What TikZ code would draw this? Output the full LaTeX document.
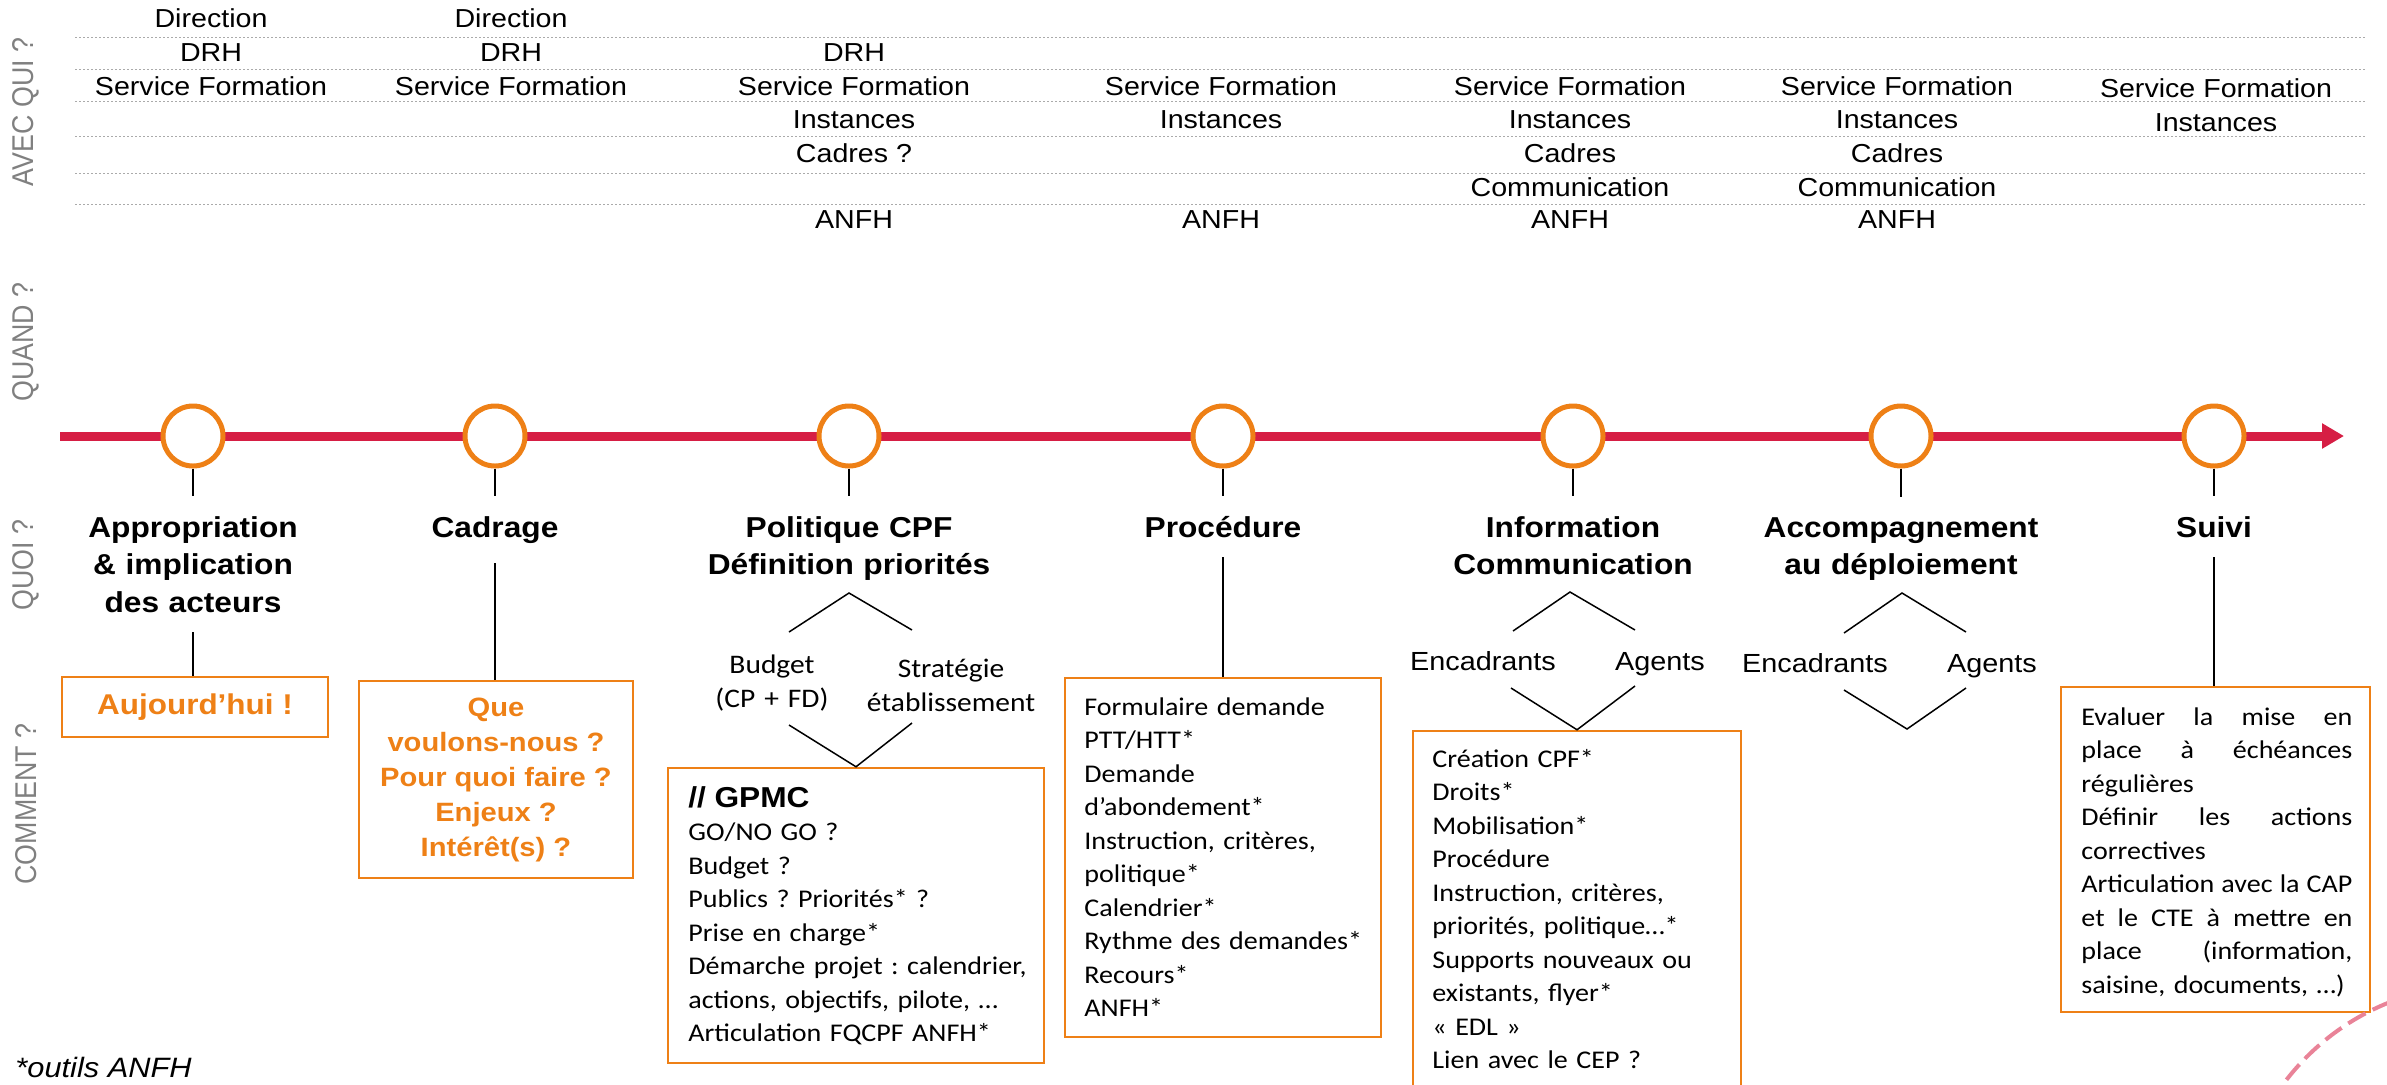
\documentclass[tikz,border=0pt]{standalone}
\usepackage{fontspec}
\setmainfont{Liberation Sans}[FakeStretch=1.1]
\newfontfamily\calibri{Carlito}[FakeStretch=1.1]
\newfontfamily\sidefont{Liberation Sans}
\usetikzlibrary{arrows.meta}

\definecolor{anfhorange}{RGB}{238,128,22}
\definecolor{anfhred}{RGB}{214,30,68}
\definecolor{sidegray}{RGB}{128,128,128}
\definecolor{linegray}{RGB}{170,170,170}

% one justified line of the last box
\newcommand{\jline}[1]{\makebox[135.5pt][s]{\spaceskip=0.2em plus 1fil\relax #1}}

\begin{document}
\frenchspacing
\begin{tikzpicture}[x=0.5pt, y=-0.5pt,
    qui/.style={anchor=base, inner sep=0pt, font=\fontsize{13}{15}\selectfont},
    rowsep/.style={linegray, line width=0.5pt, dash pattern=on 1pt off 1pt},
    side/.style={rotate=90, sidegray, inner sep=0pt, font=\sidefont\fontsize{13.4}{16}\selectfont},
    timeline/.style={anfhred, line width=4.5pt, -{Triangle[length=11pt,width=12pt]}},
    stage/.style={circle, draw=anfhorange, line width=2.5pt, fill=white, minimum size=30pt, inner sep=0pt},
    stagetitle/.style={anchor=base, text width=160pt, align=center, inner sep=0pt, outer sep=10pt,
      font=\bfseries\fontsize{14.4}{18.75}\selectfont},
    obox/.style={draw=anfhorange, line width=1.25pt, inner sep=0pt},
    otext/.style={text=anfhorange, align=center, font=\bfseries\fontsize{13.25}{17.5}\selectfont},
    sub/.style={anchor=base, text width=100pt, align=center, inner sep=0pt, font=\calibri\fontsize{13.4}{17}\selectfont},
    who/.style={anchor=base, inner sep=0pt, font=\fontsize{13.1}{15}\selectfont},
    items/.style={anchor=base west, text width=180pt, align=left, inner sep=0pt,
      font=\calibri\fontsize{12.75}{16.75}\selectfont},
    tick/.style={line width=0.75pt},
  ]
  \useasboundingbox (0,0) rectangle (2387,1084);
  \clip (0,0) rectangle (2387,1084);

  % row labels
  \node[side] (avec) at (26,112) {\scalebox{1}[1.12]{AVEC QUI ?}};
  \node[side] (quand) at (26,342) {\scalebox{1}[1.12]{QUAND ?}};
  \node[side] (quoi) at (26,565) {\scalebox{1}[1.12]{QUOI ?}};
  \node[side] (comment) at (26,804) {\scalebox{1}[1.12]{COMMENT ?}};

  % avec qui ?
  \foreach \y in {37,69,101,136,173,204}
    \draw[rowsep] (75,\y) -- (2365,\y);
  \foreach \x/\y/\txt in {211/27/Direction, 211/61/DRH, 211/95/Service Formation,
      511/27/Direction, 511/61/DRH, 511/95/Service Formation,
      854/61/DRH, 854/95/Service Formation, 854/128/Instances, 854/162/Cadres ?, 854/228/ANFH,
      1221/95/Service Formation, 1221/128/Instances, 1221/228/ANFH,
      1570/95/Service Formation, 1570/128/Instances, 1570/162/Cadres, 1570/196/Communication, 1570/228/ANFH,
      1897/95/Service Formation, 1897/128/Instances, 1897/162/Cadres, 1897/196/Communication, 1897/228/ANFH,
      2216/97/Service Formation, 2216/131/Instances}
    \node[qui] (qui-\x-\y) at (\x,\y) {\txt};

  % quand ?
  \draw[timeline] (60,436) -- (2344,436);
  \foreach \n/\x in {1/193, 2/495, 3/849, 4/1223, 5/1573, 6/1901, 7/2214}
    \node[stage] (c\n) at (\x,436) {};

  % quoi ?
  \node[stagetitle] (t1) at (193,537) {Appropriation\\\& implication\\des acteurs};
  \node[stagetitle] (t2) at (495,537) {Cadrage};
  \node[stagetitle] (t3) at (849,537) {Politique CPF\\Définition priorités};
  \node[stagetitle] (t4) at (1223,537) {Procédure};
  \node[stagetitle] (t5) at (1573,537) {Information\\Communication};
  \node[stagetitle] (t6) at (1901,537) {Accompagnement\\au déploiement};
  \node[stagetitle] (t7) at (2214,537) {Suivi};
  \foreach \n in {1,...,7}
    \draw[tick] (c\n) -- (t\n);

  % comment ?
  \node[obox, otext, minimum width=133pt, minimum height=30pt,
    font=\bfseries\fontsize{14.3}{17.5}\selectfont] (b1) at (195,707) {Aujourd’hui !};
  \draw[tick] (t1.south) -- (t1.south |- b1.north);

  \node[obox, otext, minimum width=137pt, minimum height=98.5pt] (b2) at (496,779.5)
    {Que\\voulons-nous ?\\Pour quoi faire ?\\Enjeux ?\\Intérêt(s) ?};
  \draw[tick] (t2.south) -- (t2.south |- b2.north);

  \node[sub] (bud) at (772,673) {Budget\\(CP + FD)};
  \node[sub] (strat) at (951,677) {Stratégie\\établissement};
  \node[obox, minimum width=188pt, minimum height=147.5pt] (b3) at (856,915.5) {};
  \coordinate (p3l) at (789,632);
  \coordinate (p3) at (849,593);
  \coordinate (p3r) at (912,630);
  \coordinate (q3l) at (789,725);
  \coordinate (q3r) at (912,723);
  \draw[tick] (p3l) -- (p3) -- (p3r);
  \draw[tick] (q3l) -- (b3.north) -- (q3r);
  \node[items] (l3) at (688,807) {{\rmfamily\bfseries\fontsize{14.4}{16.75}\selectfont // GPMC}\\
    GO/NO GO ?\\Budget ?\\Publics ? Priorités* ?\\Prise en charge*\\
    Démarche projet : calendrier,\\actions, objectifs, pilote, …\\Articulation FQCPF ANFH*};

  \node[obox, minimum width=158pt, minimum height=179.5pt] (b4) at (1223,857.5) {};
  \draw[tick] (t4.south) -- (b4.north);
  \node[items] (l4) at (1084,715) {Formulaire demande\\PTT/HTT*\\Demande\\d’abondement*\\
    Instruction, critères,\\politique*\\Calendrier*\\Rythme des demandes*\\Recours*\\ANFH*};

  \node[who] (enc5) at (1483,670) {Encadrants};
  \node[who] (ag5) at (1660,670) {Agents};
  \node[obox, minimum width=164pt, minimum height=189.5pt] (b5) at (1577,920.5) {};
  \coordinate (p5l) at (1513,631);
  \coordinate (p5) at (1570,592);
  \coordinate (p5r) at (1635,630);
  \coordinate (q5l) at (1511,688);
  \coordinate (q5r) at (1635,686);
  \draw[tick] (p5l) -- (p5) -- (p5r);
  \draw[tick] (q5l) -- (b5.north) -- (q5r);
  \node[items] (l5) at (1432,767) {Création CPF*\\Droits*\\Mobilisation*\\Procédure\\
    Instruction, critères,\\priorités, politique…*\\Supports nouveaux ou\\existants, flyer*\\
    « EDL »\\Lien avec le CEP ?};

  \node[who] (enc6) at (1815,672) {Encadrants};
  \node[who] (ag6) at (1992,672) {Agents};
  \coordinate (p6l) at (1844,633);
  \coordinate (p6) at (1902,593);
  \coordinate (p6r) at (1966,632);
  \coordinate (q6l) at (1844,690);
  \coordinate (q6) at (1907,729);
  \coordinate (q6r) at (1966,688);
  \draw[tick] (p6l) -- (p6) -- (p6r);
  \draw[tick] (q6l) -- (q6) -- (q6r);

  \node[obox, minimum width=154.5pt, minimum height=162.5pt] (b7) at (2215.5,849.5) {};
  \draw[tick] (t7.south) -- (t7.south |- b7.north);
  \node[items, text width=135.5pt] (l7) at (2081,725) {\jline{Evaluer la mise en}\\
    \jline{place à échéances}\\régulières\\\jline{Définir les actions}\\correctives\\
    \jline{Articulation avec la CAP}\\\jline{et le CTE à mettre en}\\
    \jline{place (information,}\\saisine, documents, …)};

  \node[anchor=base west, inner sep=0pt, font=\itshape\fontsize{14}{16}\selectfont] (note) at (15,1077) {*outils ANFH};

  \draw[anfhred!55, line width=2pt, dash pattern=on 10pt off 4pt] (2480,1230) circle[radius=122.5pt];
\end{tikzpicture}
\end{document}
